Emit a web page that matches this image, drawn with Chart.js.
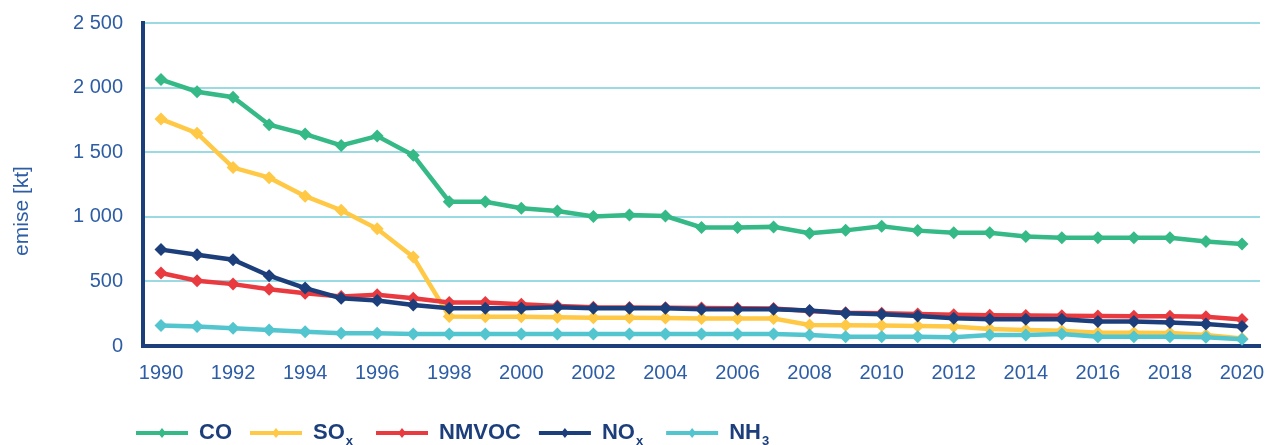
<!DOCTYPE html>
<html>
<head>
<meta charset="utf-8">
<script src="https://cdn.jsdelivr.net/npm/chart.js@4"></script>
<style>
  html, body { margin: 0; padding: 0; background: #ffffff; }
  #wrap { width: 1268px; height: 445px; position: relative; }
</style>
</head>
<body>
<div id="wrap"><canvas id="emChart"></canvas></div>
<script>
// ── DATA ────────────────────────────────────────────────────────────────
const years = [1990, 1991, 1992, 1993, 1994, 1995, 1996, 1997, 1998, 1999, 2000,
               2001, 2002, 2003, 2004, 2005, 2006, 2007, 2008, 2009, 2010,
               2011, 2012, 2013, 2014, 2015, 2016, 2017, 2018, 2019, 2020];

const coValues    = [2062, 1968, 1926, 1713, 1640, 1552, 1625, 1476, 1117, 1117, 1066,
                     1045, 1002, 1014, 1006, 918, 918, 922, 873, 895, 926,
                     893, 876, 876, 847, 838, 838, 838, 838, 808, 790];
const soxValues   = [1756, 1647, 1381, 1303, 1160, 1051, 907, 689, 228, 226, 226,
                     222, 219, 218, 216, 212, 212, 212, 163, 160, 158,
                     155, 150, 132, 124, 119, 103, 103, 100, 85, 58];
const nmvocValues = [565, 505, 479, 440, 409, 383, 396, 370, 337, 337, 324,
                     310, 300, 298, 296, 294, 292, 290, 270, 258, 254,
                     248, 241, 238, 236, 235, 233, 231, 230, 226, 205];
const noxValues   = [746, 707, 668, 544, 448, 370, 352, 318, 293, 293, 293,
                     300, 293, 293, 293, 285, 285, 285, 274, 254, 246,
                     233, 215, 207, 207, 207, 189, 189, 181, 171, 150];
const nh3Values   = [158, 150, 137, 124, 111, 99, 99, 93, 93, 93, 93,
                     93, 93, 93, 93, 93, 93, 93, 85, 72, 72,
                     72, 67, 85, 85, 93, 72, 72, 72, 67, 52];

// legend names: main part + subscript
const seriesNames = ['CO', 'SO', 'NMVOC', 'NO', 'NH'];
const seriesSubs  = ['', 'x', '', 'x', '3'];
const seriesColors = ['#35b986', '#ffc845', '#e93a40', '#1c3f7b', '#52c5cf'];

const yTicks = [0, 500, 1000, 1500, 2000, 2500];
const yTitle = 'emise [kt]';

const axisColor = '#1c3f7b';
const tickColor = '#2d5da6';
const gridColor = '#9adbe3';

// ── HELPERS ─────────────────────────────────────────────────────────────
function toPoints(values) {
    return years.map((yr, i) => ({ x: yr, y: values[i] }));
}

function fmtThousands(v) {
    if (v >= 1000) return Math.floor(v / 1000) + ' ' + String(v % 1000).padStart(3, '0');
    return String(v);
}

function makeDataset(i, values) {
    return {
        label: seriesNames[i] + seriesSubs[i],
        data: toPoints(values),
        borderColor: seriesColors[i],
        backgroundColor: seriesColors[i],
        borderWidth: 4.5,
        pointStyle: 'rectRot',
        pointRadius: 6.5,
        pointBorderWidth: 0,
        pointHoverRadius: 6.5,
        tension: 0,
        fill: false,
        order: 5 - i
    };
}

// custom legend (line + diamond, subscripts) and rotated y title
const extrasPlugin = {
    id: 'extras',
    afterDraw(chart) {
        const ctx = chart.ctx;
        ctx.save();

        // y axis title
        ctx.font = '21px "Liberation Sans", Arial, sans-serif';
        ctx.fillStyle = tickColor;
        ctx.textAlign = 'center';
        ctx.textBaseline = 'middle';
        ctx.translate(22, 211);
        ctx.rotate(-Math.PI / 2);
        ctx.fillText(yTitle, 0, 0);
        ctx.setTransform(1, 0, 0, 1, 0, 0);

        // legend
        const y = 433;
        let x = 136;
        const mainFont = 'bold 22px "Liberation Sans", Arial, sans-serif';
        const subFont = 'bold 13px "Liberation Sans", Arial, sans-serif';
        chart.data.datasets.forEach((ds, i) => {
            ctx.strokeStyle = ds.borderColor;
            ctx.lineWidth = 4;
            ctx.beginPath();
            ctx.moveTo(x, y);
            ctx.lineTo(x + 52, y);
            ctx.stroke();
            ctx.fillStyle = ds.borderColor;
            ctx.beginPath();
            ctx.moveTo(x + 26, y - 5);
            ctx.lineTo(x + 30, y);
            ctx.lineTo(x + 26, y + 5);
            ctx.lineTo(x + 22, y);
            ctx.closePath();
            ctx.fill();

            let tx = x + 63;
            ctx.fillStyle = axisColor;
            ctx.textAlign = 'left';
            ctx.textBaseline = 'middle';
            ctx.font = mainFont;
            ctx.fillText(seriesNames[i], tx, y);
            tx += ctx.measureText(seriesNames[i]).width;
            if (seriesSubs[i]) {
                ctx.font = subFont;
                ctx.fillText(seriesSubs[i], tx + 1, y + 8);
                tx += ctx.measureText(seriesSubs[i]).width + 6;
            }
            x = tx + 18;
        });
        ctx.restore();
    }
};

// ── CHART ───────────────────────────────────────────────────────────────
Chart.defaults.font.family = '"Liberation Sans", Arial, sans-serif';

new Chart(document.getElementById('emChart').getContext('2d'), {
    type: 'line',
    data: {
        datasets: [
            makeDataset(0, coValues),
            makeDataset(1, soxValues),
            makeDataset(2, nmvocValues),
            makeDataset(3, noxValues),
            makeDataset(4, nh3Values)
        ]
    },
    options: {
        responsive: true,
        maintainAspectRatio: false,
        animation: false,
        layout: { padding: { top: 23, right: 8, bottom: 0, left: 0 } },
        plugins: {
            legend: { display: false },
            tooltip: { enabled: false }
        },
        scales: {
            x: {
                type: 'linear',
                min: 1989.5,
                max: 2020.5,
                afterFit: s => { s.height = 99; s.paddingLeft = 0; s.paddingRight = 0; },
                grid: { display: true, drawOnChartArea: false, drawTicks: false, color: 'rgba(0,0,0,0)' },
                border: { display: true, color: axisColor, width: 4 },
                ticks: {
                    stepSize: 2,
                    includeBounds: false,
                    autoSkip: false,
                    maxRotation: 0,
                    padding: 15,
                    color: tickColor,
                    font: { size: 20 },
                    callback: v => String(v)
                }
            },
            y: {
                min: 0,
                max: 2500,
                afterFit: s => { s.width = 143; s.paddingTop = 10; s.paddingBottom = 10; },
                afterBuildTicks: s => { s.ticks = yTicks.map(v => ({ value: v })); },
                grid: { color: gridColor, lineWidth: 2, drawTicks: false },
                border: { display: true, color: axisColor, width: 4 },
                ticks: {
                    padding: 20,
                    color: tickColor,
                    font: { size: 20 },
                    callback: v => fmtThousands(v)
                }
            }
        }
    },
    plugins: [extrasPlugin]
});
</script>
</body>
</html>
